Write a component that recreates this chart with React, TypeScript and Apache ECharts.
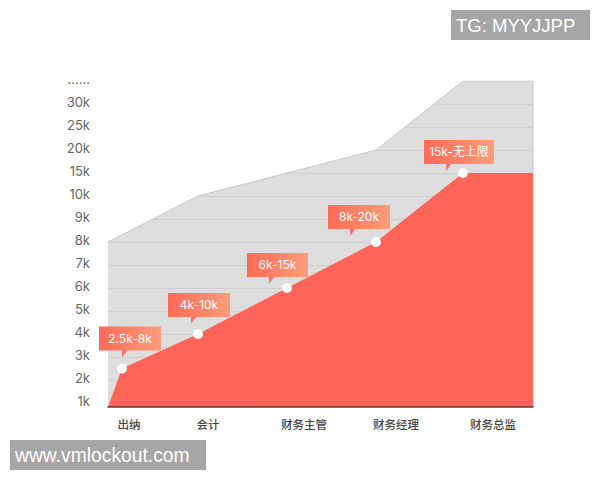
import { useEffect, useRef } from 'react';
import * as echarts from 'echarts';

// the y axis is not linear: every tick is one rank, 1k..10k then 15k, 20k, 25k, 30k and "......"
const yTickLabels = ['1k', '2k', '3k', '4k', '5k', '6k', '7k', '8k', '9k', '10k', '15k', '20k', '25k', '30k', '......'];
const yTickRanks = [1, 2, 3, 4, 5, 6, 7, 8, 9, 10, 11, 12, 13, 14, 15];
const gridRanks = [1, 2, 3, 4, 5, 6, 7, 8, 9, 10, 11, 12, 13, 14];

const jobs = ['出纳', '会计', '财务主管', '财务经理', '财务总监'];
const jobLabelX = [21, 100, 196, 288, 385];

const bandLabels = ['2.5k-8k', '4k-10k', '6k-15k', '8k-20k', '15k-无上限'];
const bandX = [14, 90, 179, 268, 355];
const bandFloor = [2.5, 4, 6, 8, 11];

const ceilingX = [0, 90, 268, 355, 425, 425];
const ceilingRank = [8, 10, 12, 15, 15, 0.826];

const floorX = [0, 14, 90, 179, 268, 355, 425];
const floorRank = [0.826, 2.5, 4, 6, 8, 11, 11];

// tag box relative to its dot: left, top, width, tail tip x
const tagBoxes = [
  [-23, -42, 62, 0],
  [-30, -41, 62, -7],
  [-40, -35, 61, -18],
  [-48, -37, 62, -26],
  [-39, -33, 70, -17],
];

const zip = (xs: number[], ys: number[]) => xs.map((x, i) => [x, ys[i]]);

export default function App() {
  const chartRef = useRef<HTMLDivElement>(null);

  useEffect(() => {
    if (!chartRef.current) return;
    document.body.style.margin = '0';
    const chart = echarts.init(chartRef.current, undefined, { renderer: 'svg' });

    chart.setOption({
      animation: false,
      backgroundColor: '#fff',
      grid: { left: 108, top: 81, width: 425, height: 326 },
      xAxis: {
        type: 'value', min: 0, max: 425, z: 6,
        splitLine: { show: false },
        axisTick: { show: false },
        axisLine: { show: true, onZero: false, lineStyle: { color: '#5c3b36', width: 1.5 } },
        axisLabel: {
          customValues: jobLabelX,
          formatter: (v: number) => jobs[jobLabelX.indexOf(v)] ?? '',
          margin: 11, fontSize: 11.5, color: '#444', fontFamily: 'Noto Sans CJK SC', fontWeight: 500,
        },
      },
      yAxis: {
        type: 'value', min: 0.826, max: 15,
        axisLine: { show: false },
        axisTick: { show: false, customValues: gridRanks },
        splitLine: { show: true, lineStyle: { color: '#efefef', width: 1 } },
        axisLabel: {
          customValues: yTickRanks,
          formatter: (v: number) => yTickLabels[v - 1] ?? '',
          margin: 18, fontSize: 13, color: '#666', fontFamily: 'Inter', verticalAlign: 'bottom', lineHeight: 4,
        },
      },
      series: [
        // white sheet over the split lines above the grey shape
        {
          type: 'line', silent: true, symbol: 'none', z: 1,
          data: zip(ceilingX.slice(0, 5), ceilingRank.slice(0, 5)),
          lineStyle: { width: 0 },
          areaStyle: { origin: 'end', color: '#fff', opacity: 1 },
        },
        {
          type: 'line', silent: true, symbol: 'none', z: 2,
          data: zip(ceilingX, ceilingRank),
          lineStyle: { color: '#c9c9c9', width: 1 },
          areaStyle: { origin: 'start', color: 'rgba(0,0,0,0.135)', opacity: 1 },
        },
        {
          type: 'line', silent: true, symbol: 'none', z: 3,
          data: zip(floorX, floorRank),
          lineStyle: { width: 0 },
          areaStyle: { origin: 'start', color: '#ff6459', opacity: 1 },
        },
        {
          type: 'scatter', silent: true, z: 4, symbolSize: 10,
          data: zip(bandX, bandFloor),
          itemStyle: { color: '#fff', opacity: 1 },
        },
        {
          type: 'custom', silent: true, z: 5, clip: false,
          data: bandX.map((x, i) => [x, bandFloor[i], i]),
          renderItem: (_: any, api: any) => {
            const [cx, cy] = api.coord([api.value(0), api.value(1)]);
            const i = api.value(2);
            const [left, top, width, tip] = tagBoxes[i];
            const x = cx + left;
            const y = cy + top;
            const h = 24;
            return {
              type: 'group',
              children: [
                {
                  type: 'polygon',
                  shape: { points: [[cx + tip, y + h - 1], [cx + tip + 6, y + h - 1], [cx + tip, y + h + 7]] },
                  style: { fill: '#ff7460' },
                },
                {
                  type: 'rect',
                  shape: { x, y, width, height: h },
                  style: {
                    fill: new echarts.graphic.LinearGradient(0, 0, 1, 0, [
                      { offset: 0, color: '#ff6a58' },
                      { offset: 1, color: '#ff9c7c' },
                    ]),
                  },
                },
                {
                  type: 'text',
                  style: {
                    x: x + width / 2, y: y + h / 2,
                    text: bandLabels[i], align: 'center', verticalAlign: 'middle',
                    fill: '#fff', fontSize: 12, fontFamily: 'Inter, "Noto Sans CJK SC"',
                  },
                },
              ],
            };
          },
        },
      ],
      graphic: [
        { type: 'rect', z: 10, shape: { x: 451, y: 10, width: 139, height: 30 }, style: { fill: '#a6a6a6' } },
        {
          type: 'text', z: 11, x: 456, y: 25,
          style: { text: 'TG: MYYJJPP', fill: '#fff', fontSize: 18.5, fontFamily: 'Liberation Sans', verticalAlign: 'middle' },
        },
        { type: 'rect', z: 10, shape: { x: 10, y: 440, width: 196, height: 30 }, style: { fill: '#a6a6a6' } },
        {
          type: 'text', z: 11, x: 15, y: 455,
          style: { text: 'www.vmlockout.com', fill: '#fff', fontSize: 19.3, fontFamily: 'Liberation Sans', verticalAlign: 'middle' },
        },
      ],
    });

    return () => chart.dispose();
  }, []);

  return <div ref={chartRef} style={{ width: 600, height: 480 }} />;
}
